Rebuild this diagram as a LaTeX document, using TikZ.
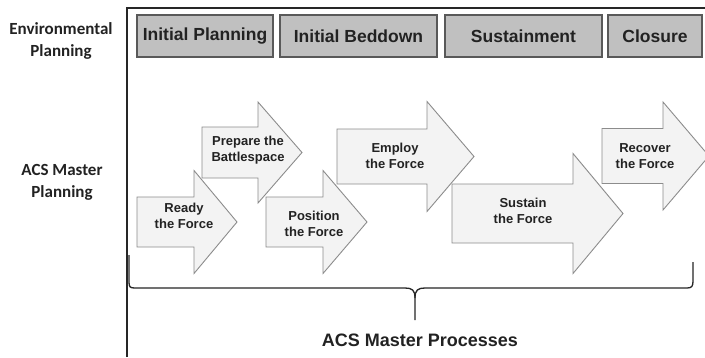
\documentclass[tikz,border=0pt]{standalone}
\usepackage{fontspec}
\setmainfont{Liberation Sans}
\newfontfamily\calfont{Carlito}
\definecolor{phasefill}{HTML}{C0C0C0}
\definecolor{phaseline}{HTML}{595959}
\definecolor{arrfill}{HTML}{F3F3F3}
\definecolor{arrline}{HTML}{8C8C8C}
\definecolor{txt}{HTML}{222222}
\newcommand{\blockarrow}[6]{%
  \draw[blockarr] (#1,#4-#5) -- (#2,#4-#5) -- (#2,#4-#6) -- (#3,#4)
    -- (#2,#4+#6) -- (#2,#4+#5) -- (#1,#4+#5) -- cycle;}
\begin{document}
\begin{tikzpicture}[x=1pt,y=-1pt,
  phase/.style={draw=phaseline,fill=phasefill,line width=1.2pt,minimum height=42pt,
    inner sep=0pt,font=\fontsize{17.5}{20}\selectfont\bfseries,text=txt},
  blockarr/.style={draw=arrline,fill=arrfill,line width=0.9pt,line join=miter},
  atext/.style={align=center,font=\fontsize{13}{16}\selectfont\bfseries,text=txt,inner sep=0pt},
  side/.style={align=center,font=\calfont\fontsize{17}{22}\selectfont\bfseries,text=txt,inner sep=0pt},
  brace/.style={draw=black!85,line width=1.3pt}]
\useasboundingbox (0,0) rectangle (705,357);
\fill[white] (0,0) rectangle (705,357);
% frame
\draw[black!85,line width=1.5pt] (127,357) -- (127,8) -- (705,8);
% left labels
\node[side] (env) at (61,41) {Environmental\\Planning};
\node[side] (acs) at (62,182) {ACS Master\\Planning};
% phase boxes
\node[phase,minimum width=136pt] (ip) at (205,36) {Initial Planning};
\node[phase,minimum width=157pt] (ib) at (358.5,36) {Initial Beddown};
\node[phase,minimum width=157pt] (su) at (523.5,36) {Sustainment};
\node[phase,minimum width=94pt] (cl) at (655,36) {Closure};
% block arrows
\blockarrow{202}{258}{302}{152.5}{25.5}{50.5}
\blockarrow{137}{194}{237}{222}{25}{51.5}
\blockarrow{266}{323}{367}{222}{25}{51.5}
\blockarrow{337}{427}{474}{156.5}{27.5}{55}
\blockarrow{452}{573}{623}{213.5}{29.5}{60}
\blockarrow{602}{663}{709}{156}{27.5}{54}
\node[atext] (prep) at (248,150) {Prepare the\\Battlespace};
\node[atext] (ready) at (184,216) {Ready\\the Force};
\node[atext] (pos) at (314,224) {Position\\the Force};
\node[atext] (emp) at (395,156) {Employ\\the Force};
\node[atext] (sus) at (523,211) {Sustain\\the Force};
\node[atext] (rec) at (645,156) {Recover\\the Force};
% brace
\coordinate (btip) at (415,320);
\draw[brace] (129,255) -- (129,282) .. controls (129,287) and (130,288) .. (135,288)
  -- (405,288) .. controls (412,288) and (415,290) .. (415,298) -- (btip);
\draw[brace] (415,298) .. controls (415,290) and (418,288) .. (425,288)
  -- (687,288) .. controls (692,288) and (693,286) .. (693,281) -- (693,262);
\node[font=\fontsize{18}{20}\selectfont\bfseries,text=txt,inner sep=0pt] (proc) at (420,340) {ACS Master Processes};
\end{tikzpicture}
\end{document}
